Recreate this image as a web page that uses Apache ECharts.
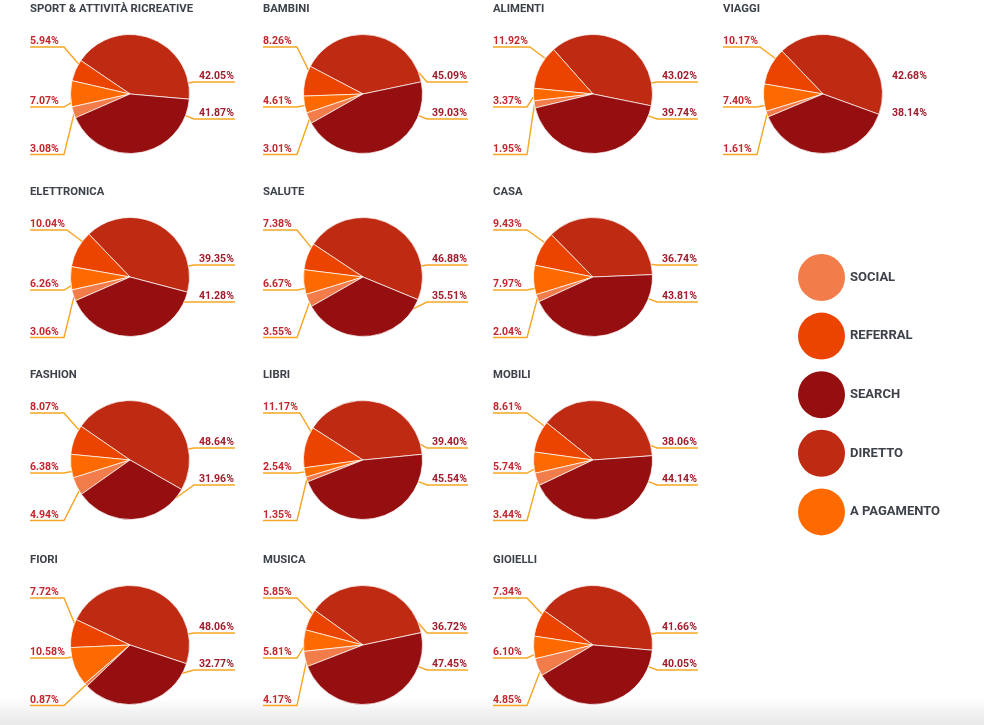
<!DOCTYPE html>
<html><head><meta charset="utf-8">
<script src="https://cdn.jsdelivr.net/npm/echarts@6/dist/echarts.min.js"></script>
<style>
html,body{margin:0;padding:0;width:984px;height:725px;overflow:hidden;
background:linear-gradient(to bottom,#ffffff 0px,#ffffff 699px,#f2f2f2 712px,#e9e9e9 725px);}
#c{width:984px;height:725px;}
</style></head><body><div id="c"></div>
<script>
// ---- data ----
const categories = ['SPORT & ATTIVITÀ RICREATIVE','BAMBINI','ALIMENTI','VIAGGI','ELETTRONICA','SALUTE','CASA','FASHION','LIBRI','MOBILI','FIORI','MUSICA','GIOIELLI'];
const channels = ['SOCIAL','REFERRAL','SEARCH','DIRETTO','A PAGAMENTO'];
const social     = [3.08, 3.01, 1.95, 1.61, 3.06, 3.55, 2.04, 4.94, 1.35, 3.44, 0.87, 4.17, 4.85];
const referral   = [5.94, 8.26, 11.92, 10.17, 10.04, 7.38, 9.43, 8.07, 11.17, 8.61, 7.72, 5.85, 7.34];
const search     = [42.05, 45.09, 43.02, 38.14, 39.35, 35.51, 43.81, 31.96, 45.54, 44.14, 32.77, 47.45, 40.05];
const diretto    = [41.87, 39.03, 39.74, 42.68, 41.28, 46.88, 36.74, 48.64, 39.40, 38.06, 48.06, 36.72, 41.66];
const aPagamento = [7.07, 4.61, 3.37, 7.40, 6.26, 6.67, 7.97, 6.38, 2.54, 5.74, 10.58, 5.81, 6.10];
// which value is printed in the upper right slot of each pie
const upperRightLabel = ['SEARCH','SEARCH','SEARCH','DIRETTO','SEARCH','DIRETTO','DIRETTO','DIRETTO','DIRETTO','DIRETTO','DIRETTO','DIRETTO','DIRETTO'];

// ---- layout / style ----
const colX = [130, 363, 593, 823];
const rowY = [94, 277, 460, 645];
const slotCol = [0,1,2,3,0,1,2,0,1,2,0,1,2];
const slotRow = [0,0,0,0,1,1,1,2,2,2,3,3,3];
const startAngles = [-5, 11.8, -11.5, -20, -14.8, -22.4, 2.3, -29.7, 5.5, 4.2, -18.3, 12, -5];
const hideRightLines = [false,false,false,true,false,false,false,false,false,false,false,false,false];
const R = 59.5;
const sliceOrder = ['DIRETTO','REFERRAL','A PAGAMENTO','SOCIAL','SEARCH'];
const colors = {'SOCIAL':'#f27d4a','REFERRAL':'#ea4400','SEARCH':'#950e10','DIRETTO':'#be2a12','A PAGAMENTO':'#ff6a00'};
const leftLabelColor = '#c2272e', rightLabelColor = '#a11d2c', lineColor = '#f6a623', textDark = '#3d4149';

function valueOf(name, i){
  return {'SOCIAL':social,'REFERRAL':referral,'SEARCH':search,'DIRETTO':diretto,'A PAGAMENTO':aPagamento}[name][i];
}
function norm(a){ a = a % 360; return a < 0 ? a + 360 : a; }
function angDist(a, b){ const d = Math.abs(norm(a) - norm(b)); return Math.min(d, 360 - d); }
function clampAng(t, a0, a1, m){
  if (a1 - a0 < 2*m) return (a0 + a1) / 2;
  const lo = a0 + m, hi = a1 - m;
  let tt = t; while (tt < a0) tt += 360; while (tt >= a0 + 360) tt -= 360;
  if (tt >= lo && tt <= hi) return tt;
  return angDist(tt, lo) < angDist(tt, hi) ? lo : hi;
}

function layoutFor(i){
  const cx = colX[slotCol[i]], cy = rowY[slotRow[i]];
  const ranges = {};
  let acc = startAngles[i];
  sliceOrder.forEach(n => { const v = valueOf(n, i) * 3.6; ranges[n] = [acc, acc + v]; acc += v; });
  const topName = upperRightLabel[i];
  return function(p){
    const name = sliceOrder[p.dataIndex];
    const w = p.labelRect.width;
    let side, dy, geo;
    if (name === 'REFERRAL') { side = -1; dy = -52.5; geo = 'REFERRAL'; }
    else if (name === 'A PAGAMENTO') { side = -1; dy = 7.5; geo = 'A PAGAMENTO'; }
    else if (name === 'SOCIAL') { side = -1; dy = 55; geo = 'SOCIAL'; }
    else { side = 1; const top = (name === topName); dy = top ? -17.5 : 19.5; geo = top ? 'DIRETTO' : 'SEARCH'; }
    const ly = cy + dy, uy = ly + 5.5;
    const lx = side < 0 ? cx - 100 : cx + 69;
    const ex = side < 0 ? Math.max(cx - 66, lx + w + 2) : Math.min(cx + 64, lx - 3);
    const te = Math.atan2(cy - uy, ex - cx) * 180 / Math.PI;
    const rg = ranges[geo];
    const th = clampAng(te, rg[0], rg[1], side < 0 ? 4 : 10) * Math.PI / 180;
    const sx = cx + R * Math.cos(th), sy = cy - R * Math.sin(th);
    const endX = side < 0 ? lx : lx + w + 1;
    return { x: lx, y: ly, align: 'left', verticalAlign: 'middle',
             labelLinePoints: [[sx, sy], [ex, uy], [endX, uy]] };
  };
}

const series = categories.map((cat, i) => ({
  type: 'pie',
  name: cat,
  center: [colX[slotCol[i]], rowY[slotRow[i]]],
  radius: R,
  startAngle: startAngles[i],
  clockwise: false,
  avoidLabelOverlap: false,
  silent: true,
  animation: false,
  emphasis: { disabled: true },
  itemStyle: { borderColor: '#ffffff', borderWidth: 0.7 },
  label: {
    show: true, position: 'outside',
    formatter: p => p.value.toFixed(2) + '%',
    fontSize: 10.5, fontWeight: 'bold', fontFamily: 'Roboto, sans-serif'
  },
  labelLine: { show: true, smooth: false, lineStyle: { color: lineColor, width: 1.4 } },
  labelLayout: layoutFor(i),
  data: sliceOrder.map(n => {
    const isRight = (n === 'SEARCH' || n === 'DIRETTO');
    const item = {
      name: n, value: valueOf(n, i),
      itemStyle: { color: colors[n] },
      label: { color: isRight ? rightLabelColor : leftLabelColor }
    };
    if (isRight && hideRightLines[i]) item.labelLine = { show: false };
    return item;
  })
}));

const titles = categories.map((cat, i) => ({
  text: cat,
  left: colX[slotCol[i]] - 100,
  top: rowY[slotRow[i]] - 90,
  padding: 0,
  textStyle: { fontSize: 11.3, fontWeight: 'bold', color: textDark, fontFamily: 'Roboto, sans-serif' }
}));

const chart = echarts.init(document.getElementById('c'), null, { renderer: 'canvas' });
chart.setOption({
  backgroundColor: 'transparent',
  animation: false,
  title: titles,
  legend: {
    orient: 'vertical', left: 798, top: 254, padding: 0,
    itemWidth: 47, itemHeight: 47, itemGap: 11.6, icon: 'circle',
    data: channels, selectedMode: false,
    itemStyle: { borderWidth: 0 },
    textStyle: { fontSize: 13, fontWeight: 'bold', color: textDark, fontFamily: 'Roboto, sans-serif' }
  },
  series: series
});
</script></body></html>
